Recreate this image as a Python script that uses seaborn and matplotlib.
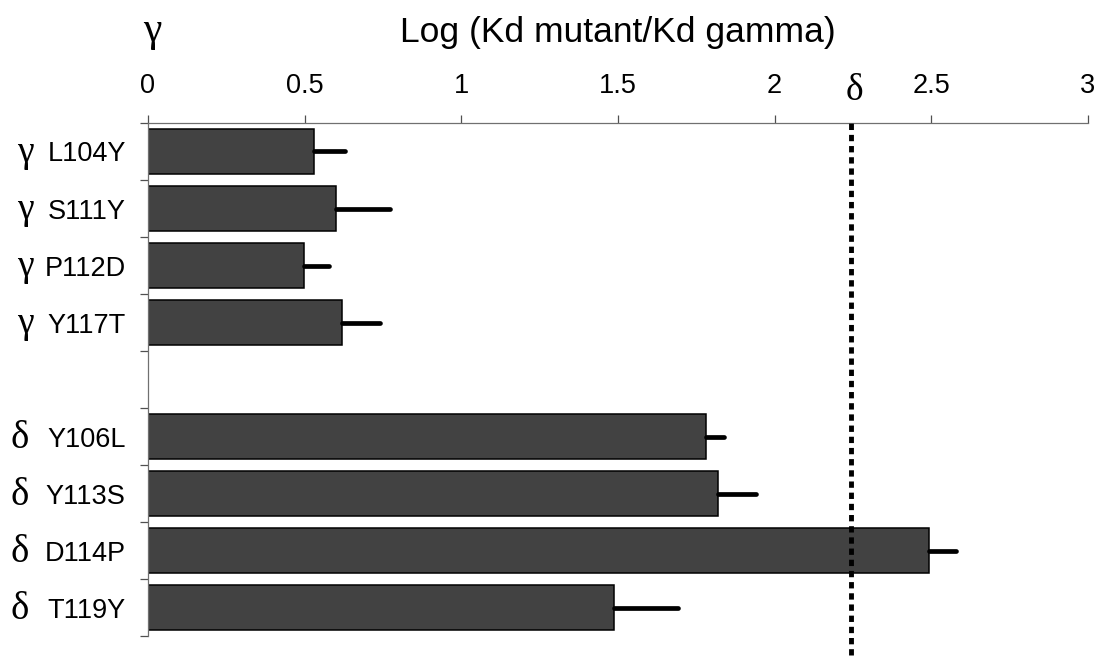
import numpy as np
import pandas as pd
import matplotlib
matplotlib.use("Agg")
import matplotlib.pyplot as plt
import seaborn as sns

# ---- data ----
mutants = ["L104Y", "S111Y", "P112D", "Y117T", "Y106L", "Y113S", "D114P", "T119Y"]
groups = ["γ", "γ", "γ", "γ", "δ", "δ", "δ", "δ"]
values = [0.530, 0.599, 0.498, 0.619, 1.781, 1.819, 2.491, 1.486]
errors = [0.100, 0.172, 0.081, 0.120, 0.056, 0.120, 0.087, 0.205]
xticks = [0, 0.5, 1, 1.5, 2, 2.5, 3]
xtick_labels = ["0", "0.5", "1", "1.5", "2", "2.5", "3"]
delta_ref = 2.244
title = "Log (Kd mutant/Kd gamma)"

sns.set_theme(style="white")
plt.rcParams["font.family"] = ["Liberation Sans", "DejaVu Sans"]

df = pd.DataFrame({"mutant": mutants, "value": values, "group": groups})
order = mutants[:4] + [" "] + mutants[4:]

fig = plt.figure(figsize=(11.09, 6.63), dpi=100)
ax = fig.add_axes([0.13345, 0.04072, 0.84761, 0.77376])

sns.barplot(data=df, x="value", y="mutant", order=order, orient="h",
            color="#424242", saturation=1, edgecolor="black", linewidth=1.1,
            width=0.8, errorbar=None, ax=ax)

pos = [order.index(m) for m in mutants]
eb = ax.errorbar(values, pos, xerr=[np.zeros(len(errors)), errors], fmt="none",
                 ecolor="black", elinewidth=3.4, capsize=0, zorder=3)
for lc in eb.lines[2]:
    lc.set_capstyle("round")

ax.set_xlim(0, 3)
ax.set_ylim(len(order) - 0.5, -0.5)

# reference line
ax.axvline(delta_ref, ymin=-0.037, ymax=1.0, color="black", lw=3.5,
           dashes=(1.3, 1.0), clip_on=False, zorder=4)

# axes styling
for s in ["right", "bottom"]:
    ax.spines[s].set_visible(False)
for s in ["top", "left"]:
    ax.spines[s].set_color("#707070")
    ax.spines[s].set_linewidth(0.9)

ax.xaxis.tick_top()
ax.set_xticks(xticks)
ax.set_xticklabels(xtick_labels)
ax.tick_params(axis="x", which="major", direction="out", length=6, width=0.9,
               color="#505050", pad=11, labelsize=19.5, labelcolor="black")

ax.set_yticks(range(len(order)))
ax.set_yticklabels(order)
ax.set_yticks(np.arange(-0.5, len(order)), minor=True)
ax.tick_params(axis="y", which="major", length=0, pad=16, labelsize=19.5,
               labelcolor="black")
ax.tick_params(axis="y", which="minor", direction="out", length=5.5, width=0.9,
               color="#505050", left=True)
ax.set_xlabel("")
ax.set_ylabel("")

# Greek group letters beside labels
ytrans = ax.get_yaxis_transform()
for g, p in zip(groups, pos):
    if g == "γ":
        ax.text(-0.131, p + 0.19, g, transform=ytrans, ha="center", va="baseline",
                family="Liberation Serif", size=27, color="black")
    else:
        ax.text(-0.136, p + 0.21, g, transform=ytrans, ha="center", va="baseline",
                family="Liberation Serif", size=28, color="black")

xtrans = ax.get_xaxis_transform()
ax.text(0.013, 1.160, "γ", transform=xtrans, ha="center", va="baseline",
        family="Liberation Serif", size=30, color="black")
ax.text(delta_ref + 0.012, 1.045, "δ", transform=xtrans, ha="center", va="baseline",
        family="Liberation Serif", size=27, color="black")

ax.text(0.5, 1.158, title, transform=ax.transAxes, ha="center", va="baseline",
        size=25.5, color="black")

fig.savefig("out.png", dpi=100)
